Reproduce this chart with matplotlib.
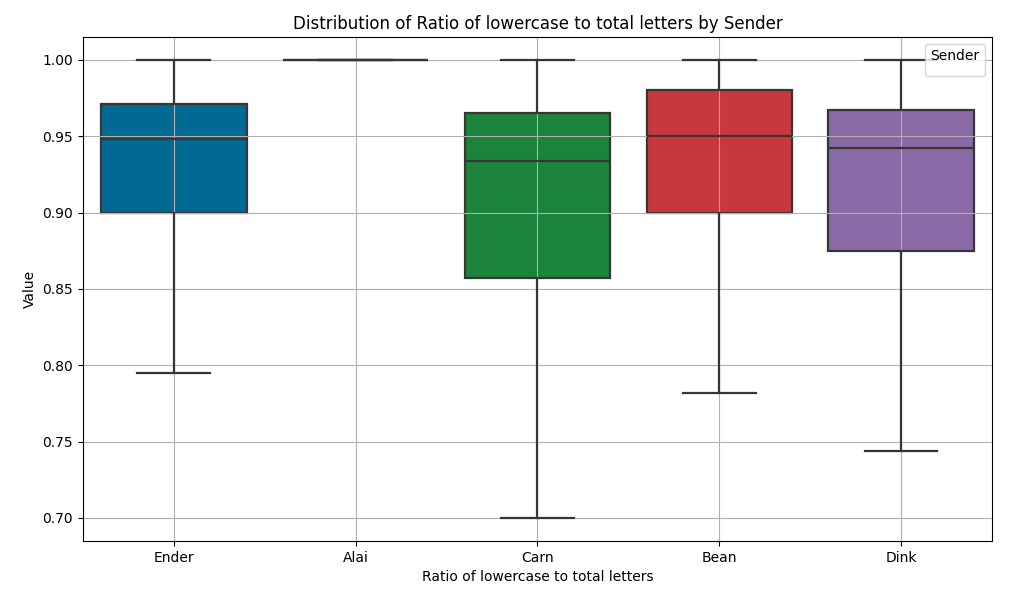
import matplotlib
matplotlib.use("Agg")
import matplotlib.pyplot as plt

# box statistics (one value per sender)
senders = ["Ender", "Alai", "Carn", "Bean", "Dink"]
whisker_low = [0.795, 1.0, 0.700, 0.782, 0.744]
q1 = [0.900, 1.0, 0.857, 0.900, 0.875]
median = [0.948, 1.0, 0.934, 0.950, 0.942]
q3 = [0.971, 1.0, 0.965, 0.980, 0.967]
whisker_high = [1.0, 1.0, 1.0, 1.0, 1.0]
colors = ["#006A94", "#8C8C8C", "#1B833C", "#C8373B", "#8A6AA6"]

EDGE = "#363636"

stats = []
for name, lo, a, m, b, hi in zip(senders, whisker_low, q1, median, q3, whisker_high):
    stats.append({"label": name, "whislo": lo, "q1": a, "med": m,
                  "q3": b, "whishi": hi, "fliers": []})

fig, ax = plt.subplots(figsize=(10.36, 5.95), dpi=100)
fig.subplots_adjust(left=0.080, right=0.9575, top=0.938, bottom=0.091)

line = dict(color=EDGE, linewidth=1.6)
bp = ax.bxp(stats, positions=range(len(senders)), widths=0.8, capwidths=0.4,
            patch_artist=True, showfliers=False,
            boxprops=dict(edgecolor=EDGE, linewidth=1.6),
            whiskerprops=line, capprops=line, medianprops=line)
for patch, c in zip(bp["boxes"], colors):
    patch.set_facecolor(c)
    patch.set_zorder(1)

ax.set_xlim(-0.5, len(senders) - 0.5)
ax.set_ylim(0.685, 1.015)
# grid sits above the box fill but below whiskers, caps and medians
ax.set_axisbelow("line")
ax.grid(True, color="#b0b0b0", linewidth=0.8)

ax.set_title("Distribution of Ratio of lowercase to total letters by Sender")
ax.set_xlabel("Ratio of lowercase to total letters")
ax.set_ylabel("Value")
ax.legend(handles=[], title="Sender", loc="upper right")

fig.savefig("out.png", dpi=100)
